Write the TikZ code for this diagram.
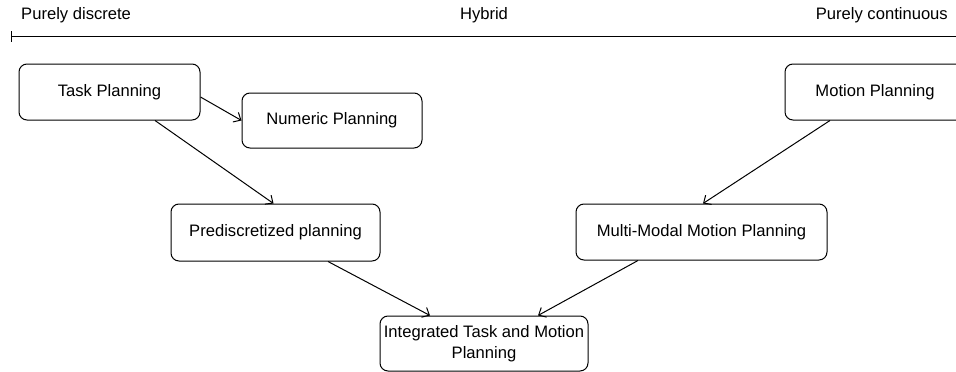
\documentclass[tikz,border=0pt]{standalone}
\usepackage{fontspec}
\setmainfont{Liberation Sans}
\usetikzlibrary{arrows.meta}
\begin{document}
\begin{tikzpicture}[x=1pt,y=-1pt,
  every node/.style={font=\fontsize{16.6pt}{21pt}\selectfont},
  box/.style={draw, rounded corners=8pt, line width=1pt, minimum height=56pt, align=center, inner sep=0pt},
  conn/.style={line width=1pt, -{Straight Barb[length=6pt,width=11pt,line width=1pt]}},
  lbl/.style={inner sep=0pt}
]
\useasboundingbox (0,0) rectangle (956,372);
% axis labels
\node[lbl, anchor=west] (ld) at (21,15) {Purely discrete};
\node[lbl] (lh) at (484,15) {Hybrid};
\node[lbl, anchor=east] (lc) at (948,15) {Purely continuous};
% axis
\coordinate (axL) at (11,36);
\coordinate (axR) at (970,36);
\draw[line width=1pt, {Bar[width=11pt,line width=1pt]}-] (axL) -- (axR);
% boxes
\node[box, minimum width=181pt] (tp) at (109.5,92) {Task Planning};
\node[box, minimum width=180pt, minimum height=55pt] (np) at (332,120.5) {Numeric Planning};
\node[box, minimum width=180pt] (mp) at (875,92) {Motion Planning};
\node[box, minimum width=209pt, minimum height=57pt] (pd) at (275.5,232.5) {Prediscretized planning};
\node[box, minimum width=251pt] (mm) at (701.5,232) {Multi-Modal Motion Planning};
\node[box, minimum width=208pt, minimum height=55pt] (it) at (484,343.5) {Integrated Task and Motion\\Planning};
% connectors
\draw[conn] ([yshift=-5pt]tp.east) -- (np.west);
\draw[conn] ([xshift=45.5pt]tp.south) -- ([xshift=-2pt]pd.north);
\draw[conn] ([xshift=-45pt]mp.south) -- ([xshift=1.5pt]mm.north);
\draw[conn] ([xshift=52.5pt]pd.south) -- ([xshift=-54pt]it.north);
\draw[conn] ([xshift=-63.5pt]mm.south) -- ([xshift=54pt]it.north);
\end{tikzpicture}
\end{document}
